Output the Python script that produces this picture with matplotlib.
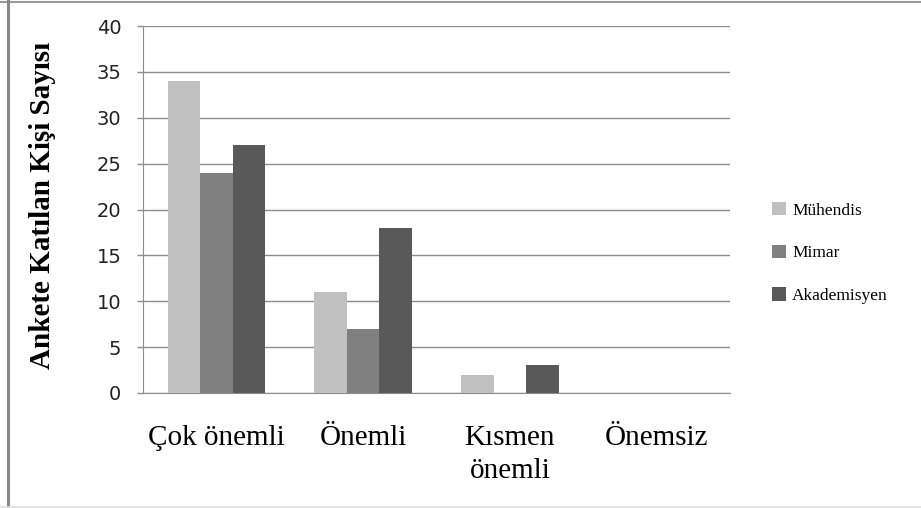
import numpy as np
import matplotlib
matplotlib.use('Agg')
import matplotlib.pyplot as plt
from matplotlib.lines import Line2D
from matplotlib.patches import Patch


# SURVEY DATA
# ================================================================================

categories = ['Çok önemli', 'Önemli', 'Kısmen\nönemli', 'Önemsiz']
series_names = ['Mühendis', 'Mimar', 'Akademisyen']
muhendis = [34, 11, 2, 0]
mimar = [24, 7, 0, 0]
akademisyen = [27, 18, 3, 0]
y_ticks = [0, 5, 10, 15, 20, 25, 30, 35, 40]


class Colors:
    light = '#c0c0c0'
    mid = '#808080'
    dark = '#595959'
    grid = '#8c8c8c'


serif = ['Liberation Serif', 'DejaVu Serif']

fig = plt.figure(figsize=(9.21, 5.08), dpi=100)
ax = fig.add_axes([143 / 921, 1 - 393 / 508, 587 / 921, 367 / 508])

x = np.arange(len(categories))
width = 0.222
colors = [Colors.light, Colors.mid, Colors.dark]
for i, (values, color) in enumerate(zip([muhendis, mimar, akademisyen], colors)):
    ax.bar(x + (i - 1) * width, values, width, color=color, label=series_names[i], zorder=3)

ax.set_xlim(-0.5, len(categories) - 0.5)
ax.set_ylim(0, 40)
ax.set_yticks(y_ticks)
ax.yaxis.grid(True, color=Colors.grid, linewidth=1)
ax.set_axisbelow(True)

# Only the left and bottom spines remain
for side in ('top', 'right'):
    ax.spines[side].set_visible(False)
ax.spines['left'].set_color(Colors.grid)
ax.spines['bottom'].set_color(Colors.grid)

ax.tick_params(axis='y', length=4.5, width=1, color=Colors.grid, pad=11,
               labelsize=14, labelcolor='#222222')
ax.tick_params(axis='x', length=0, pad=23)
ax.set_xticks(x)
ax.set_xticklabels(categories, family=serif, fontsize=21, linespacing=1.35)

ax.set_ylabel('Ankete Katılan Kişi Sayısı', family=serif, fontsize=21, fontweight='bold')
ax.yaxis.set_label_coords(-0.148, 0.51)

# Legend with small square markers to the right of the plot
handles = [Patch(facecolor=c, edgecolor='none') for c in colors]
fig.legend(handles, series_names, loc='center left', bbox_to_anchor=(772 / 921, 1 - 253 / 508),
           frameon=False, borderpad=0, borderaxespad=0, handlelength=0.8, handleheight=0.8,
           handletextpad=0.35, labelspacing=1.5, prop={'family': serif, 'size': 12.5})

# Thin frame lines around the chart
fig.add_artist(Line2D([0, 1], [1 - 1.5 / 508] * 2, color='#999999', linewidth=1.5))
fig.add_artist(Line2D([8 / 921] * 2, [0, 1], color='#888888', linewidth=2.2))
fig.add_artist(Line2D([0, 1], [1 / 508] * 2, color='#e0e0e0', linewidth=1.2))

fig.savefig('out.png', dpi=100)
